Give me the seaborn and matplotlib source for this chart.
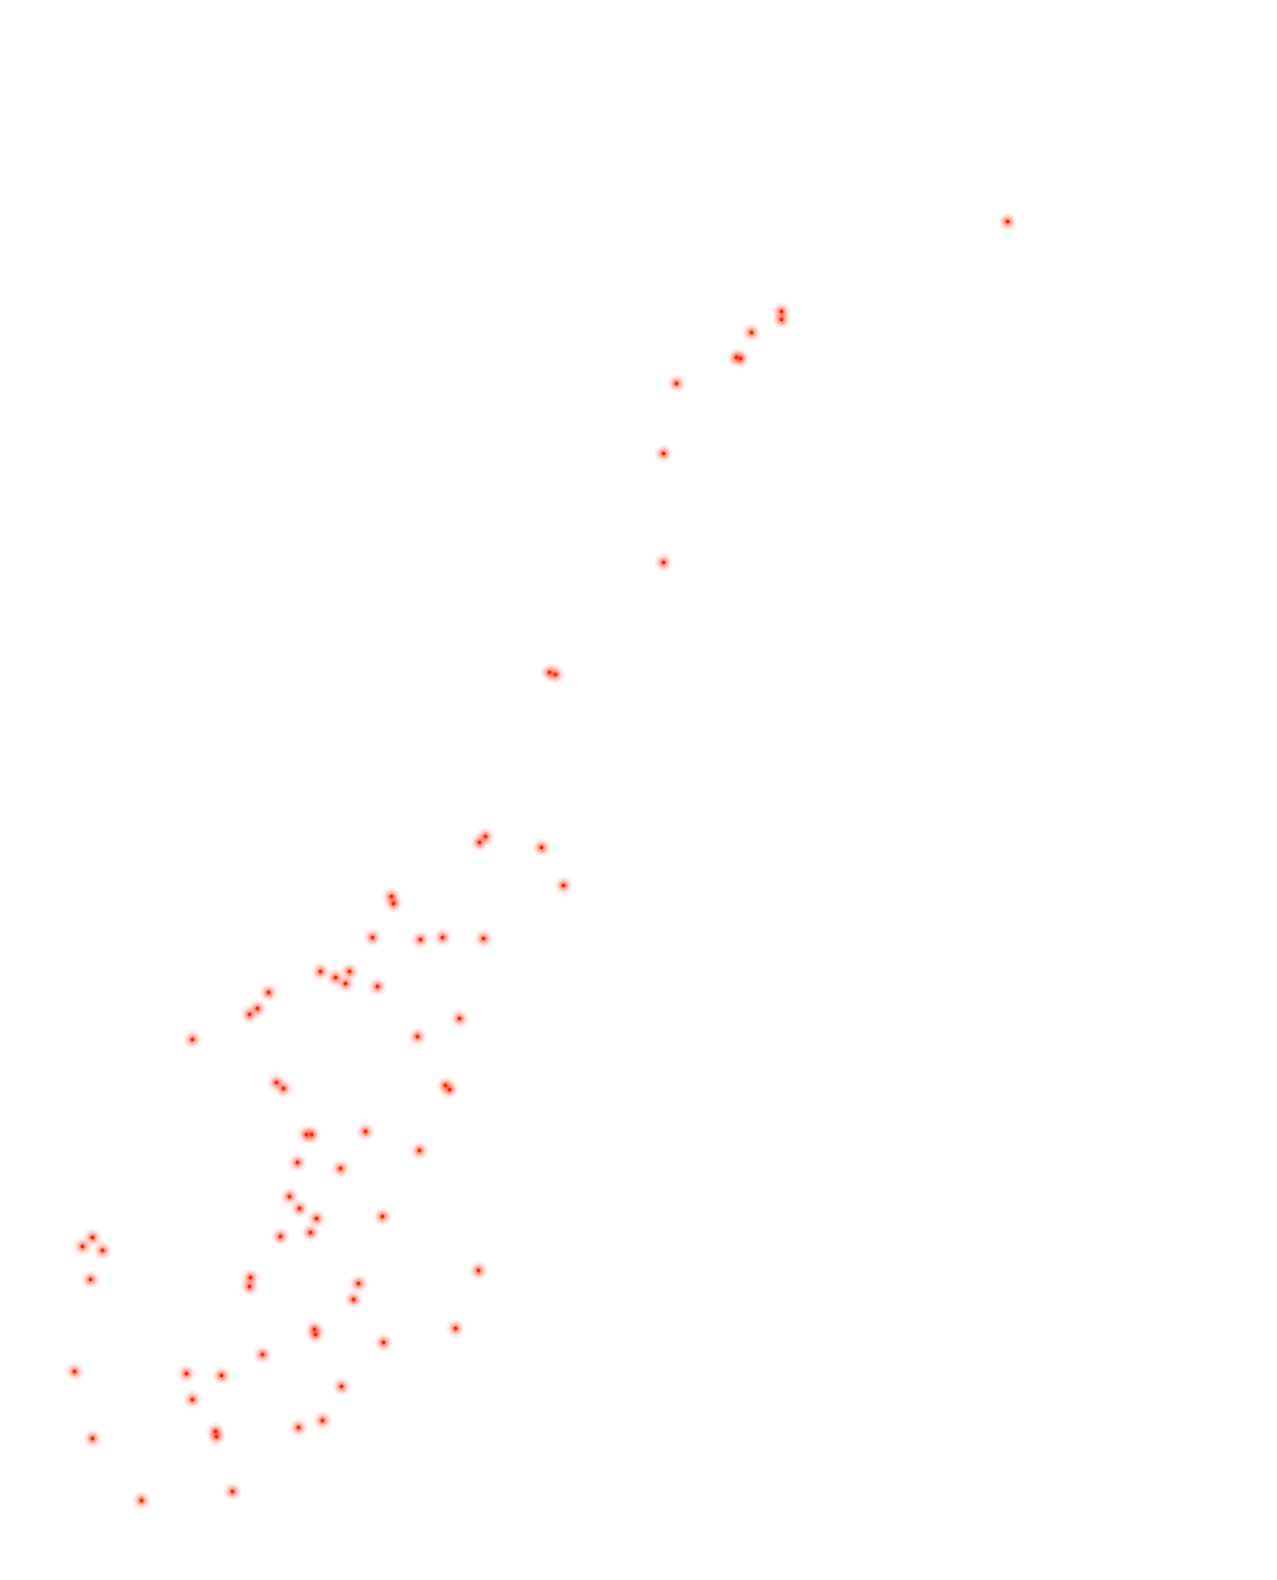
import pandas as pd
import matplotlib.pyplot as plt
import seaborn as sns

# pontos (coordenadas em pixels, y para baixo)
x = [1007, 781, 781, 751, 736, 740, 676, 663, 663, 549, 555,
     479, 485, 541, 563, 442, 483,
     391, 393, 372, 420, 320, 335, 349, 345, 377, 268, 257, 249, 192,
     459, 417, 276, 283, 445, 449,
     306, 311, 365, 419, 297, 340, 289, 299, 316, 382, 280, 310,
     92, 82, 102, 90, 250, 249, 358, 353, 478,
     314, 315, 383, 455, 262, 74, 186, 221, 341, 192, 322, 298,
     215, 216, 92, 141, 232]
y = [221, 311, 319, 332, 357, 358, 383, 453, 562, 672, 674,
     842, 836, 847, 885, 937, 938,
     896, 903, 937, 939, 971, 977, 971, 983, 986, 992, 1008, 1014, 1039,
     1018, 1036, 1082, 1088, 1085, 1089,
     1134, 1134, 1131, 1150, 1162, 1168, 1196, 1208, 1218, 1216, 1236, 1232,
     1237, 1246, 1250, 1279, 1277, 1286, 1283, 1299, 1270,
     1329, 1334, 1342, 1328, 1354, 1371, 1373, 1375, 1386, 1399, 1420, 1427,
     1431, 1436, 1438, 1500, 1491]

df = pd.DataFrame({"x": x, "y": y})

fig = plt.figure(figsize=(12.77, 15.80), dpi=100)
ax = fig.add_axes([0, 0, 1, 1])

# brilho em volta dos pontos
sns.scatterplot(data=df, x="x", y="y", s=170, color="#ff3b20", alpha=0.08, linewidth=0, ax=ax)
sns.scatterplot(data=df, x="x", y="y", s=90, color="#ff3b20", alpha=0.15, linewidth=0, ax=ax)
sns.scatterplot(data=df, x="x", y="y", s=40, color="#ff3b20", alpha=0.3, linewidth=0, ax=ax)
sns.scatterplot(data=df, x="x", y="y", s=9, color="#ff2a10", alpha=1, linewidth=0, ax=ax)

ax.set_xlim(0, 1277)
ax.set_ylim(1580, 0)
ax.axis("off")
plt.savefig("out.png", dpi=100, facecolor="white")
